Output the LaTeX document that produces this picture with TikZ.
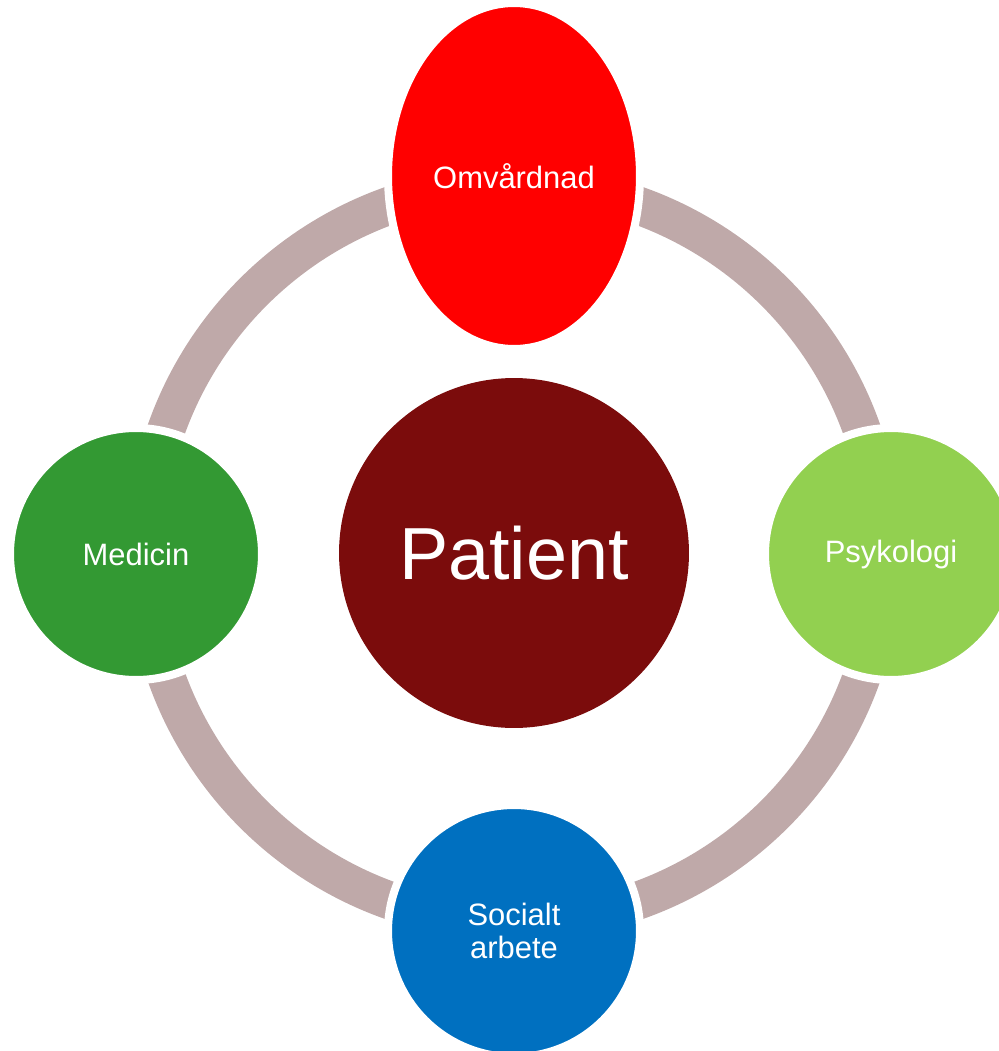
\documentclass[tikz,border=0pt]{standalone}
\usepackage{fontspec}
\setmainfont{Liberation Sans}
\usetikzlibrary{shapes.geometric}
\definecolor{ringgray}{RGB}{191,169,169}
\definecolor{patred}{RGB}{123,12,12}
\definecolor{omvred}{RGB}{255,0,0}
\definecolor{psygreen}{RGB}{146,208,80}
\definecolor{medgreen}{RGB}{51,153,51}
\definecolor{socblue}{RGB}{0,112,192}
\begin{document}
\begin{tikzpicture}[x=0.02cm,y=-0.02cm,
        field/.style={circle,draw=white,line width=0.16cm,minimum size=5.04cm,inner sep=0pt,
            text=white,align=center,font=\fontsize{17.6}{18.6}\selectfont}]
        \useasboundingbox (0,0) rectangle (999,1051);
        \coordinate (c) at (514,553);
        \draw[ringgray,line width=0.76cm] (c) circle[radius=7.38cm];
        \node[circle,fill=patred,minimum size=7cm,text=white,font=\fontsize{42}{50}\selectfont] (patient) at (c) {Patient};
        \node[field,ellipse,fill=omvred,minimum width=5.04cm,minimum height=6.92cm] (omv) at (514,176) {Omvårdnad};
        \node[field,fill=psygreen] (psy) at (891,554) {Psykologi};
        \node[field,fill=medgreen] (med) at (136,554) {Medicin};
        \node[field,fill=socblue] (soc) at (514,931) {Socialt\\arbete};
    \end{tikzpicture}
\end{document}
